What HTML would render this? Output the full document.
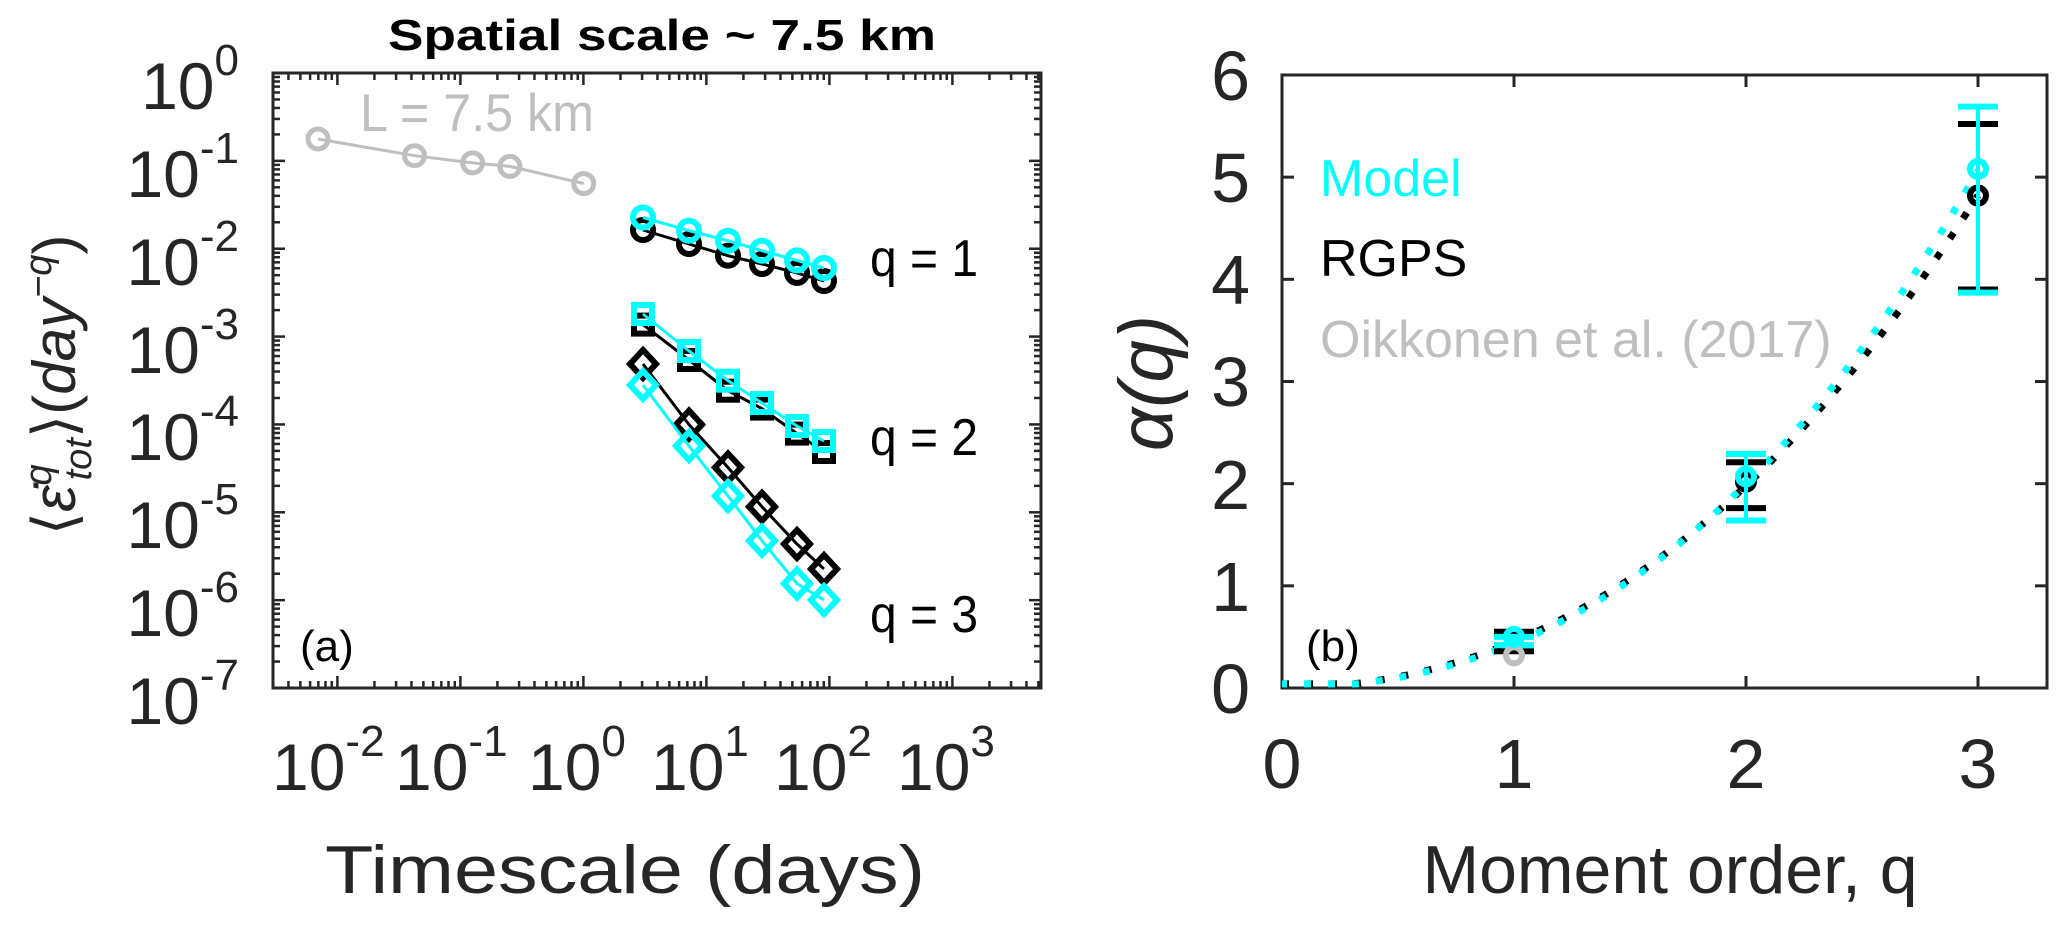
<!DOCTYPE html>
<html><head><meta charset="utf-8">
<style>
html,body{margin:0;padding:0;background:#fff;}
svg{display:block;}
text{font-family:"Liberation Sans",Arial,sans-serif;}
.tk{font-size:66px;fill:#262626;}
.ex{font-size:44px;fill:#262626;}
.rt{font-size:70px;fill:#262626;}
</style></head>
<body>
<svg id="s" width="2067" height="925" viewBox="0 0 2067 925" xmlns="http://www.w3.org/2000/svg">
<rect width="2067" height="925" fill="#fff"/>
<g id="g"></g>
<text x="662" y="50" text-anchor="middle" font-size="44" font-weight="bold" fill="#000" textLength="548" lengthAdjust="spacingAndGlyphs">Spatial scale ~ 7.5 km</text>
<text x="360" y="131" font-size="53" fill="#bfbfbf" textLength="234" lengthAdjust="spacingAndGlyphs">L = 7.5 km</text>
<text x="978" y="276" text-anchor="end" font-size="52" fill="#000" textLength="108" lengthAdjust="spacingAndGlyphs">q = 1</text>
<text x="978" y="455" text-anchor="end" font-size="52" fill="#000" textLength="108" lengthAdjust="spacingAndGlyphs">q = 2</text>
<text x="978" y="632" text-anchor="end" font-size="52" fill="#000" textLength="108" lengthAdjust="spacingAndGlyphs">q = 3</text>
<text x="300" y="661" font-size="44" fill="#000">(a)</text>
<g class="tk" text-anchor="end">
<text x="239" y="109">10<tspan class="ex" dy="-34">0</tspan></text>
<text x="239" y="197">10<tspan class="ex" dy="-34">-1</tspan></text>
<text x="239" y="285">10<tspan class="ex" dy="-34">-2</tspan></text>
<text x="239" y="373">10<tspan class="ex" dy="-34">-3</tspan></text>
<text x="239" y="460">10<tspan class="ex" dy="-34">-4</tspan></text>
<text x="239" y="548">10<tspan class="ex" dy="-34">-5</tspan></text>
<text x="239" y="636">10<tspan class="ex" dy="-34">-6</tspan></text>
<text x="239" y="724">10<tspan class="ex" dy="-34">-7</tspan></text>
</g>
<g class="tk">
<text x="272" y="790">10<tspan class="ex" dy="-34">-2</tspan></text>
<text x="395" y="790">10<tspan class="ex" dy="-34">-1</tspan></text>
<text x="528" y="790">10<tspan class="ex" dy="-34">0</tspan></text>
<text x="651" y="790">10<tspan class="ex" dy="-34">1</tspan></text>
<text x="774" y="790">10<tspan class="ex" dy="-34">2</tspan></text>
<text x="897" y="790">10<tspan class="ex" dy="-34">3</tspan></text>
</g>
<text x="625" y="893" text-anchor="middle" font-size="68" fill="#262626" textLength="600" lengthAdjust="spacingAndGlyphs">Timescale (days)</text>
<text transform="translate(75,385) rotate(-90)" text-anchor="middle" font-family="Liberation Serif,serif" font-size="60" fill="#262626">⟨<tspan font-style="italic">ε̇</tspan><tspan font-size="38" font-style="italic" dy="-24">q</tspan><tspan font-size="38" font-style="italic" dy="40" dx="-16">tot</tspan><tspan dy="-16">⟩(</tspan><tspan font-style="italic">day</tspan><tspan font-size="38" font-style="italic" dy="-24">−q</tspan><tspan dy="24">)</tspan></text>
<text x="1320" y="196" font-size="52" fill="#00ffff">Model</text>
<text x="1320" y="276" font-size="52" fill="#000">RGPS</text>
<text x="1320" y="357" font-size="52" fill="#bfbfbf">Oikkonen et al. (2017)</text>
<text x="1306" y="661" font-size="44" fill="#000">(b)</text>
<g class="rt" text-anchor="end">
<text x="1250" y="713">0</text>
<text x="1250" y="611">1</text>
<text x="1250" y="509">2</text>
<text x="1250" y="406">3</text>
<text x="1250" y="304">4</text>
<text x="1250" y="202">5</text>
<text x="1250" y="100">6</text>
</g>
<g class="rt" text-anchor="middle">
<text x="1282" y="788">0</text>
<text x="1514" y="788">1</text>
<text x="1746" y="788">2</text>
<text x="1978" y="788">3</text>
</g>
<text x="1670" y="893" text-anchor="middle" font-size="68" fill="#262626">Moment order, q</text>
<text transform="translate(1172,383) rotate(-90)" text-anchor="middle" font-family="Liberation Serif,serif" font-style="italic" font-size="76" fill="#262626">α(q)</text>
</svg>
<script>
var NS="http://www.w3.org/2000/svg",g=document.getElementById("g");
function el(t,a){var e=document.createElementNS(NS,t);for(var k in a)e.setAttribute(k,a[k]);g.appendChild(e);return e;}
function line(x1,y1,x2,y2,c,w){el("line",{x1:x1,y1:y1,x2:x2,y2:y2,stroke:c,"stroke-width":w});}
var L=273,R=1041,T=73,B=688;
for(var d=-3;d<=3;d++){for(var k=1;k<=9;k++){var x=337.4+(d+2+Math.log10(k))*123;if(x<L||x>R)continue;var len=k==1?12:7;line(x,T,x,T+len,"#262626",2.5);line(x,B,x,B-len,"#262626",2.5);}}
for(var d=-7;d<=0;d++){for(var k=1;k<=9;k++){var y=73-(d+Math.log10(k))*87.86;if(y<T-1||y>B+1)continue;var len=k==1?12:7;line(L,y,L+len,y,"#262626",2.5);line(R,y,R-len,y,"#262626",2.5);}}
el("rect",{x:L,y:T,width:R-L,height:B-T,fill:"none",stroke:"#262626","stroke-width":3});
function poly(xs,ys,c,w){el("polyline",{points:xs.map(function(x,i){return x+","+ys[i]}).join(" "),fill:"none",stroke:c,"stroke-width":w});}
var gx=[318,414.5,472.6,509.9,583.7],gy=[139,155.7,162.9,166.4,183.6];
poly(gx,gy,"#bfbfbf",3);gx.forEach(function(x,i){el("circle",{cx:x,cy:gy[i],r:10,fill:"none",stroke:"#bfbfbf","stroke-width":5});});
var px=[643,689,728,762,797,824];
function circ(ys,c){poly(px,ys,c,3);px.forEach(function(x,i){el("circle",{cx:x,cy:ys[i],r:10,fill:"none",stroke:c,"stroke-width":6});});}
function sq(ys,c){poly(px,ys,c,3);px.forEach(function(x,i){el("rect",{x:x-9,y:ys[i]-9,width:18,height:18,fill:"none",stroke:c,"stroke-width":6});});}
function dia(ys,c){poly(px,ys,c,3);px.forEach(function(x,i){var y=ys[i];el("polygon",{points:(x)+","+(y-14)+" "+(x+13)+","+y+" "+x+","+(y+14)+" "+(x-13)+","+y,fill:"none",stroke:c,"stroke-width":6});});}
circ([230,244,255.7,264,272.9,281],"#000");
circ([217.5,230.7,240.7,250.7,260.4,268],"#00ffff");
sq([324.6,360,390.7,408.6,433.6,452],"#000");
sq([314,351,380.7,403,426,441],"#00ffff");
dia([364,424.6,467.5,506.8,544,569],"#000");
dia([385,446,496,540.7,583.6,600],"#00ffff");
var L2=1282,R2=2047,T2=75,B2=688;
function QX(q){return 1282+q*232;}function AY(a){return 688-a*102.17;}
for(var q=0;q<=3;q++){var x=QX(q);line(x,B2,x,B2-12,"#262626",3);line(x,T2,x,T2+12,"#262626",3);}
for(var a=0;a<=6;a++){var y=AY(a);line(L2,y,L2+12,y,"#262626",3);line(R2,y,R2-12,y,"#262626",3);}
el("rect",{x:L2,y:T2,width:R2-L2,height:B2-T2,fill:"none",stroke:"#262626","stroke-width":3});
function curve(a,c,col,off){var pts=[];for(var q=0;q<=3.0001;q+=0.02){pts.push(QX(q)+","+AY(Math.max(0.04,a*q*q+c*q*q*q)));}
el("polyline",{points:pts.join(" "),fill:"none",stroke:col,"stroke-width":7,"stroke-dasharray":"7 17","stroke-dashoffset":off});}
curve(0.414,0.0406,"#000",0);
curve(0.373,0.0633,"#00ffff",2);
function eb(q,lo,hi,col,w){var x=QX(q);line(x,AY(lo),x,AY(hi),col,w);line(x-20,AY(lo),x+20,AY(lo),col,6);line(x-20,AY(hi),x+20,AY(hi),col,6);}
function mk(q,a,col){el("circle",{cx:QX(q),cy:AY(a),r:8,fill:"none",stroke:col,"stroke-width":6});}
eb(1,0.36,0.55,"#000",4);eb(1,0.42,0.5,"#00ffff",18);mk(1,0.32,"#bfbfbf");mk(1,0.5,"#00ffff");
eb(2,1.76,2.21,"#000",4);mk(2,2.02,"#000");eb(2,1.64,2.29,"#00ffff",4);mk(2,2.07,"#00ffff");
eb(3,3.90,5.52,"#000",4);mk(3,4.82,"#000");eb(3,3.87,5.69,"#00ffff",4);mk(3,5.08,"#00ffff");
</script>
</body></html>
